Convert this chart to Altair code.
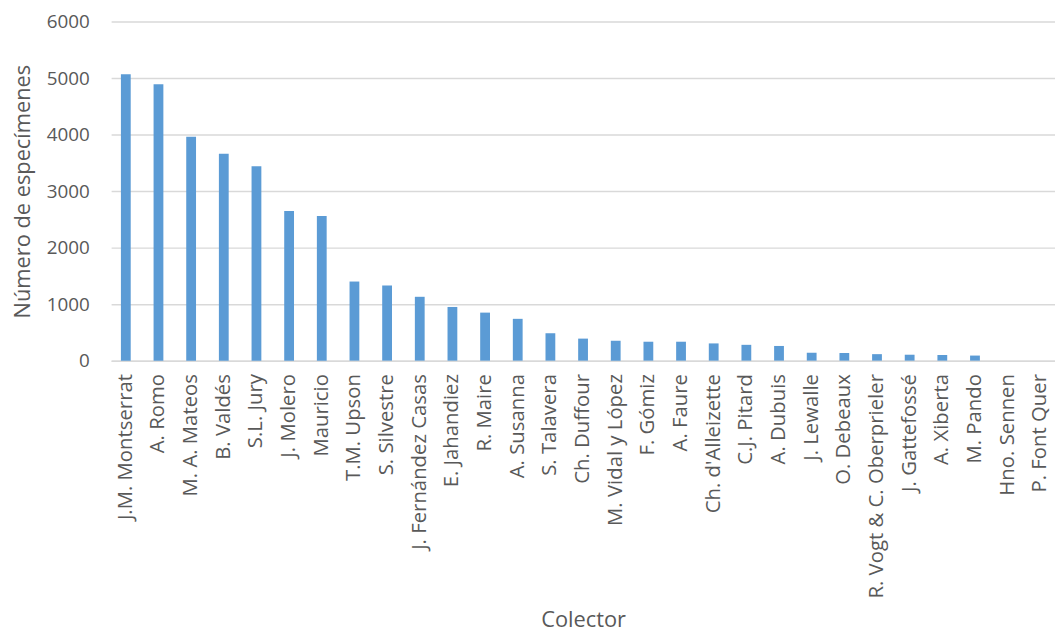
import altair as alt
import pandas as pd

collectors = [
    "J.M. Montserrat", "A. Romo", "M. A. Mateos", "B. Valdés", "S.L. Jury",
    "J. Molero", "Mauricio", "T.M. Upson", "S. Silvestre", "J. Fernández Casas",
    "E. Jahandiez", "R. Maire", "A. Susanna", "S. Talavera", "Ch. Duffour",
    "M. Vidal y López", "F. Gómiz", "A. Faure", "Ch. d'Alleizette", "C.J. Pitard",
    "A. Dubuis", "J. Lewalle", "O. Debeaux", "R. Vogt & C. Oberprieler",
    "J. Gattefossé", "A. Xiberta", "M. Pando", "Hno. Sennen", "P. Font Quer",
]
specimens = [
    5070, 4890, 3960, 3660, 3440,
    2650, 2560, 1400, 1330, 1130,
    950, 850, 740, 485, 390,
    350, 335, 335, 305, 280,
    260, 140, 135, 115,
    105, 100, 90, 0, 0,
]

df = pd.DataFrame({"Colector": collectors, "Especimenes": specimens})

FONT = "Open Sans"
GREY = "#595959"

chart = alt.Chart(df).mark_bar(color="#5B9BD5").encode(
    x=alt.X(
        "Colector:N",
        sort=collectors,
        title="Colector",
        scale=alt.Scale(paddingInner=0.7, paddingOuter=0.3),
        axis=alt.Axis(
            labelAngle=-90,
            labelFontSize=20.5,
            labelColor=GREY,
            labelFont=FONT,
            labelPadding=13,
            labelLimit=400,
            ticks=False,
            domainColor="#D9D9D9",
            domainWidth=1.5,
            titleFontSize=22,
            titleFont=FONT,
            titleColor=GREY,
            titleFontWeight="normal",
            titleY=261,
            titleBaseline="middle",
        ),
    ),
    y=alt.Y(
        "Especimenes:Q",
        title="Número de especímenes",
        scale=alt.Scale(domain=[0, 6000], nice=False),
        axis=alt.Axis(
            values=[0, 1000, 2000, 3000, 4000, 5000, 6000],
            format="d",
            labelFontSize=19,
            labelColor=GREY,
            labelFont=FONT,
            labelPadding=22,
            ticks=False,
            domain=False,
            gridColor="#D9D9D9",
            gridWidth=1.5,
            titleFontSize=22,
            titleFont=FONT,
            titleColor=GREY,
            titleFontWeight="normal",
            titlePadding=12,
        ),
    ),
).properties(
    width=952,
    height=342,
    autosize=alt.AutoSizeParams(type="none"),
    padding={"left": 104, "top": 11, "right": 0, "bottom": 272},
).configure_view(stroke=None)

chart.save("out.html", embed_options={"renderer": "svg", "actions": False})
